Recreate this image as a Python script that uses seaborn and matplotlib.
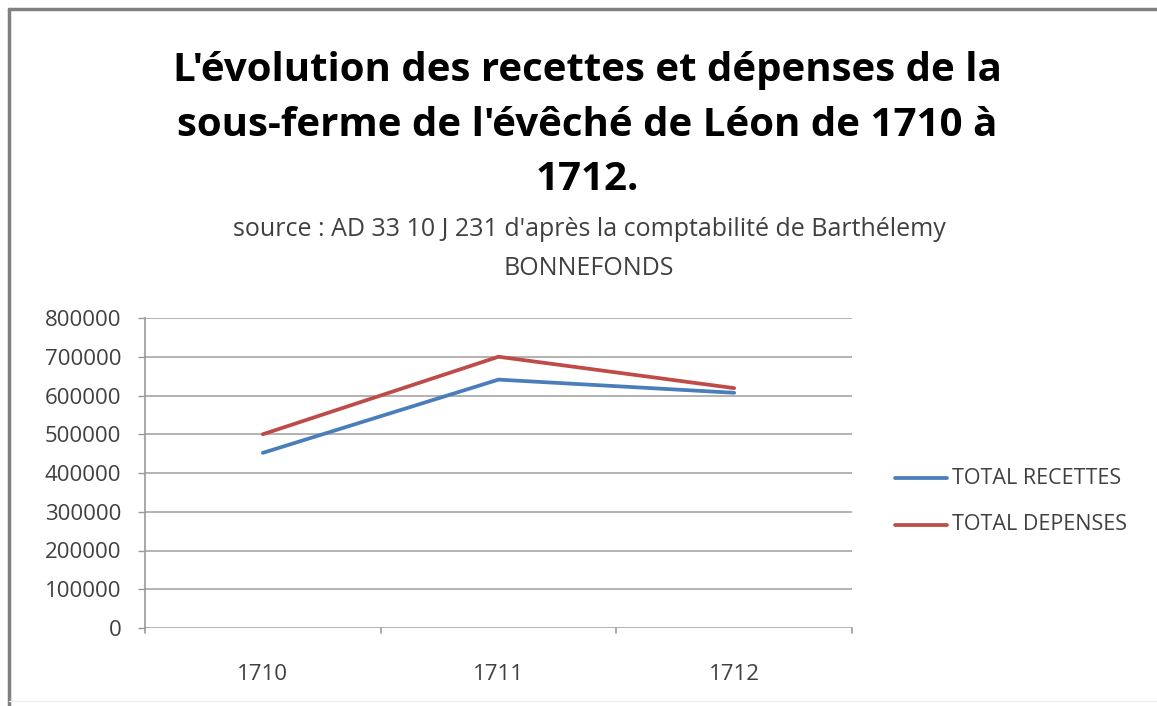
import numpy as np
import pandas as pd
import matplotlib
matplotlib.use('Agg')
import matplotlib.pyplot as plt
import seaborn as sns

years = ['1710', '1711', '1712']
total_recettes = [452000, 641000, 607000]
total_depenses = [500000, 700000, 619000]
series_names = ['TOTAL RECETTES', 'TOTAL DEPENSES']
y_ticks = [0, 100000, 200000, 300000, 400000, 500000, 600000, 700000, 800000]

title = "L'évolution des recettes et dépenses de la\nsous-ferme de l'évêché de Léon de 1710 à\n1712."
subtitle = "source : AD 33 10 J 231 d'après la comptabilité de Barthélemy\nBONNEFONDS"

sns.set_theme(style="white")
plt.rcParams['font.family'] = ['Open Sans', 'DejaVu Sans']

df = pd.DataFrame({
    'annee': list(range(len(years))) * 2,
    'valeur': total_recettes + total_depenses,
    'serie': [series_names[0]] * len(years) + [series_names[1]] * len(years),
})

W, H = 1157, 706
fig = plt.figure(figsize=(W / 100, H / 100), dpi=100)
ax = fig.add_axes([145 / W, 1 - 628 / H, (852 - 145) / W, (628 - 318) / H])

palette = {series_names[0]: '#4A7EBB', series_names[1]: '#BE4B48'}
sns.lineplot(data=df, x='annee', y='valeur', hue='serie', palette=palette,
             linewidth=2.7, ax=ax, legend=False)

ax.set_xlim(-0.5, len(years) - 0.5)
ax.set_ylim(0, 800000)
ax.set_yticks(y_ticks)
ax.set_yticklabels([str(v) for v in y_ticks], fontsize=16, color='#404040')
ax.set_xticks(range(len(years)))
ax.set_xticklabels(years, fontsize=16, color='#404040')
ax.tick_params(axis='x', length=0, pad=26)
ax.tick_params(axis='y', length=5, color='#999999', direction='out', width=1, pad=12, left=True)
ax.set_xlabel('')
ax.set_ylabel('')
ax.grid(axis='y', color='#a6a6a6', linewidth=1.2)
ax.set_axisbelow(True)
for s in ['top', 'right', 'bottom']:
    ax.spines[s].set_visible(False)
ax.spines['left'].set_color('#999999')
ax.spines['left'].set_linewidth(1.2)
# category boundary ticks below the axis
for xb in np.arange(-0.5, len(years), 1.0):
    ax.plot([xb, xb], [0, -12000], color='#999999', linewidth=1.2, clip_on=False)

# legend
for i, name in enumerate(series_names):
    yy = 1 - (478 + 47 * i) / H
    fig.add_artist(plt.Line2D([895 / W, 947 / W], [yy, yy], color=palette[name], linewidth=2.7))
    fig.text(952 / W, yy, name, fontsize=15.5, color='#404040', va='center', ha='left')

fig.text(587 / W, 1 - 125 / H, title, fontsize=29, fontweight='bold', ha='center', va='center',
         linespacing=1.5, color='black')
fig.text(589 / W, 1 - 249 / H, subtitle, fontsize=18, ha='center', va='center',
         linespacing=1.75, color='#404040')

# frame (left and top edges only, as in the source screenshot)
fig.add_artist(plt.Line2D([9 / W, 9 / W], [0, 1 - 9 / H], color='#808080', linewidth=2.5))
fig.add_artist(plt.Line2D([9 / W, 1], [1 - 9 / H, 1 - 9 / H], color='#808080', linewidth=2.5))
fig.add_artist(plt.Line2D([9 / W, 1], [1 - 701 / H, 1 - 701 / H], color='#eeeeee', linewidth=1))

fig.savefig('out.png', dpi=100)
